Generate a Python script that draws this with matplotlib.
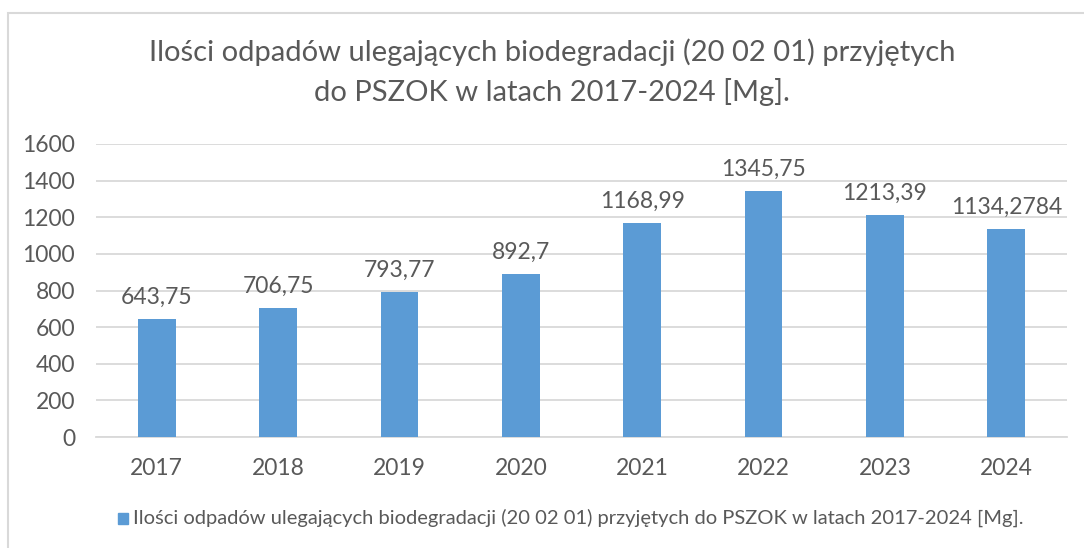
import matplotlib.pyplot as plt
from matplotlib.patches import Rectangle

# Data
years = ['2017', '2018', '2019', '2020', '2021', '2022', '2023', '2024']
values = [643.75, 706.75, 793.77, 892.7, 1168.99, 1345.75, 1213.39, 1134.2784]
value_labels = ['643,75', '706,75', '793,77', '892,7', '1168,99', '1345,75', '1213,39', '1134,2784']
y_ticks = [0, 200, 400, 600, 800, 1000, 1200, 1400, 1600]

title = ('Ilości odpadów ulegających biodegradacji (20 02 01) przyjętych\n'
         'do PSZOK w latach 2017-2024 [Mg].')
series_name = ('Ilości odpadów ulegających biodegradacji (20 02 01) przyjętych '
               'do PSZOK w latach 2017-2024 [Mg].')

plt.rcParams['font.family'] = ['Lato', 'DejaVu Sans']
text_color = '#595959'
bar_color = '#5B9BD5'
grid_color = '#D9D9D9'

W, H = 1084, 548
fig = plt.figure(figsize=(W / 100, H / 100), dpi=100)

# chart border (right and bottom run off the image)
fig.patches.append(Rectangle((8 / W, -0.05), 1.2, (H - 13) / H + 0.05,
                             transform=fig.transFigure, fill=False,
                             edgecolor=grid_color, linewidth=1.5))

ax = fig.add_axes([96 / W, 1 - 437 / H, (1067 - 96) / W, (437 - 144) / H])
x = range(len(years))
bars = ax.bar(x, values, width=0.31, color=bar_color, zorder=3)

ax.set_xlim(-0.5, len(years) - 0.5)
ax.set_ylim(0, 1600)
ax.set_yticks(y_ticks)
ax.set_xticks(list(x))
ax.set_xticklabels(years)
ax.tick_params(axis='both', length=0, labelsize=16.5, colors=text_color)
ax.tick_params(axis='y', pad=15)
ax.tick_params(axis='x', pad=15)
ax.grid(axis='y', color=grid_color, linewidth=1.3, zorder=0)
for s in ['top', 'right', 'left']:
    ax.spines[s].set_visible(False)
ax.spines['bottom'].set_color(grid_color)
ax.spines['bottom'].set_linewidth(1.3)

for xi, v, lab in zip(x, values, value_labels):
    ax.annotate(lab, (xi, v), xytext=(0, 8), textcoords='offset points',
                ha='center', va='bottom', fontsize=16.5, color=text_color)

fig.text(552 / W, 1 - 72 / H, title, ha='center', va='center',
         fontsize=21, color=text_color, linespacing=1.5)

# legend
fig.patches.append(Rectangle((118 / W, 1 - 524 / H), 10 / W, 11 / H,
                             transform=fig.transFigure, color=bar_color))
fig.text(133 / W, 1 - 518 / H, series_name, ha='left', va='center',
         fontsize=14.5, color=text_color)

plt.savefig('out.png', dpi=100)
